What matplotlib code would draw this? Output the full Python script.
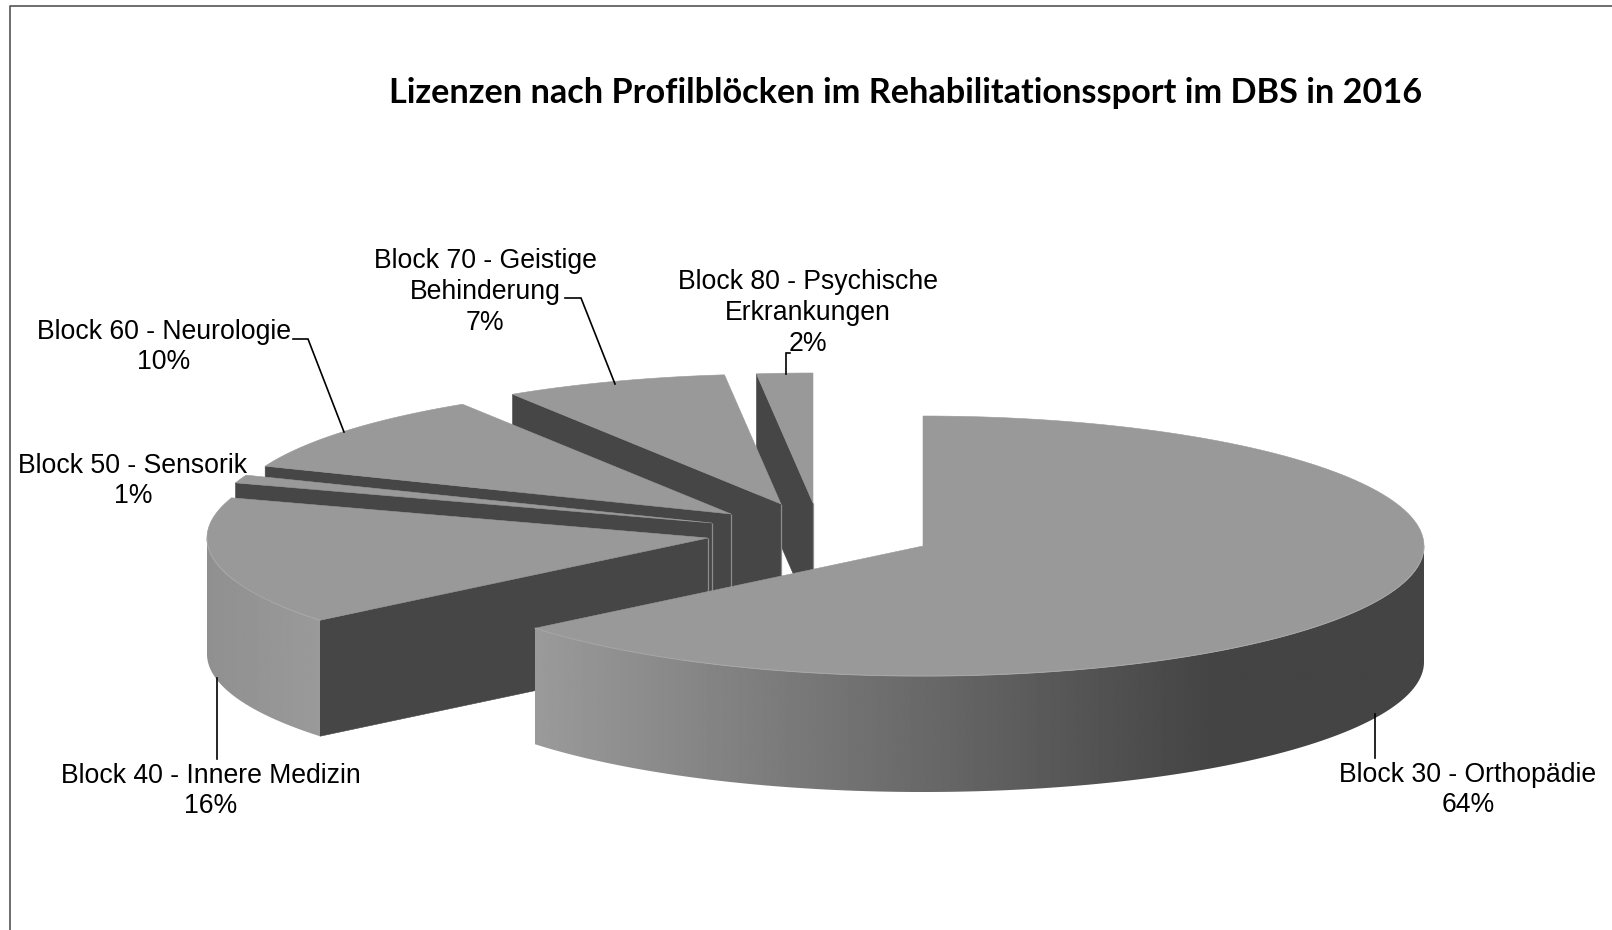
"""Exploded 3D-style pie of licences per profile block (DBS 2016)."""

import numpy as np
import matplotlib
matplotlib.use("Agg")
import matplotlib.pyplot as plt
from matplotlib.patches import Polygon

# data
title = "Lizenzen nach Profilblöcken im Rehabilitationssport im DBS in 2016"
categories = [
    "Block 30 - Orthopädie",
    "Block 40 - Innere Medizin",
    "Block 50 - Sensorik",
    "Block 60 - Neurologie",
    "Block 70 - Geistige\nBehinderung",
    "Block 80 - Psychische\nErkrankungen",
]
shares = [64.1, 15.9, 1.0, 10.0, 7.2, 1.8]

# layout, in pixels of the 1612x930 canvas
RX, RY, DEPTH = 501, 130, 116
slice_centres = [(923, 546), (708, 538), (712, 523), (731, 514), (781, 504), (813, 503)]
label_pos = [(1468, 790), (211, 791), (133, 481), (164, 347), (485, 292), (808, 313)]
leaders = [
    [(1375, 714), (1375, 758)],
    [(217, 678), (217, 759)],
    None,
    [(344, 432), (308, 339), (293, 339)],
    [(615, 384), (581, 298), (565, 298)],
    [(786, 374), (786, 353), (790, 353)],
]

TOP = "#999999"
CUT = "#464646"
RIM = "#a8a8a8"
APEX = "#8c8c8c"


def arc(cx, cy, a0, a1, n=160):
    # angles run clockwise from 12 o'clock
    t = np.radians(np.linspace(a0, a1, n))
    return cx + RX * np.sin(t), cy - RY * np.cos(t)


def wall_grey(x_rel):
    # side wall shading follows the horizontal position on the rim
    return np.interp(x_rel, [-1.0, -0.77, 0.58, 1.0], [0x90, 0x9a, 0x44, 0x44]) / 255


plt.rcParams["font.family"] = ["Liberation Sans", "DejaVu Sans"]

fig = plt.figure(figsize=(16.12, 9.30), dpi=100)
ax = fig.add_axes([0, 0, 1, 1])

# chart frame, only top and left are inside the crop
ax.plot([10, 10, 1612], [930, 6.5, 6.5], color="#555555", lw=1.2, solid_capstyle="butt")

edges = np.cumsum([0] + shares) / sum(shares) * 360

# back slices first, the big one last
for i in range(len(shares) - 1, -1, -1):
    cx, cy = slice_centres[i]
    a0, a1 = edges[i], edges[i + 1]
    xs, ys = arc(cx, cy, a0, a1)
    base = 2 + (6 - i) * 4

    # cut face at the start angle
    if i > 0:
        ax.add_patch(Polygon(
            [(cx, cy), (xs[0], ys[0]), (xs[0], ys[0] + DEPTH), (cx, cy + DEPTH)],
            closed=True, facecolor=CUT, edgecolor=CUT, lw=0.4, zorder=base,
        ))
        ax.plot([cx, cx], [cy, cy + DEPTH], color=APEX, lw=0.9, zorder=base, solid_capstyle="butt")

    # outer wall, only the part turned to the viewer
    w0, w1 = max(a0, 90), min(a1, 270)
    if w1 > w0:
        wx, wy = arc(cx, cy, w0, w1, 240)
        shell = Polygon(
            np.column_stack([np.r_[wx, wx[::-1]], np.r_[wy, wy[::-1] + DEPTH]]),
            closed=True, facecolor="none", edgecolor="none", transform=ax.transData,
        )
        ax.add_patch(shell)
        x0, x1 = wx.min(), wx.max()
        ramp = wall_grey((np.linspace(x0, x1, 512) - cx) / RX)[np.newaxis, :]
        img = ax.imshow(ramp, cmap="gray", vmin=0, vmax=1, aspect="auto", interpolation="bilinear",
                        extent=(x0, x1, wy.max() + DEPTH, wy.min()), zorder=base + 1)
        img.set_clip_path(shell)
        ax.plot(wx, wy, color=RIM, lw=0.7, zorder=base + 3)

    # top face
    ax.add_patch(Polygon(
        np.column_stack([np.r_[cx, xs], np.r_[cy, ys]]),
        closed=True, facecolor=TOP, edgecolor=TOP, lw=0.4, zorder=base + 2,
    ))

# labels and leader lines
for name, share, pos, leader in zip(categories, shares, label_pos, leaders):
    ax.text(pos[0], pos[1], f"{name}\n{round(share)}%", ha="center", va="center",
            fontsize=19.2, linespacing=1.24, color="black", zorder=60)
    if leader:
        ax.plot(*zip(*leader), color="black", lw=1.2, zorder=50, solid_joinstyle="miter")

ax.text(906, 93, title, ha="center", va="center", fontsize=24.7, fontweight="bold",
        family=["Lato", "DejaVu Sans"], color="black", zorder=60)

ax.set_xlim(0, 1612)
ax.set_ylim(930, 0)
ax.axis("off")

fig.savefig("out.png", dpi=100)
